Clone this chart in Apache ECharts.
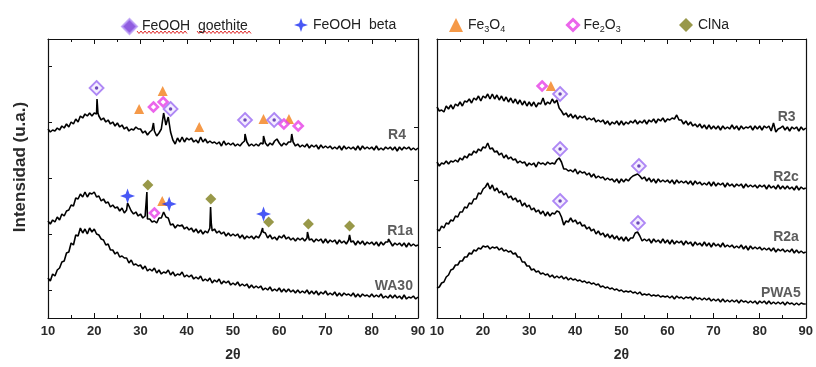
<!DOCTYPE html>
<html><head><meta charset="utf-8">
<script src="https://cdn.jsdelivr.net/npm/echarts@6/dist/echarts.min.js"></script>
<style>html,body{margin:0;padding:0;background:#fff}#c{width:816px;height:367px}</style>
</head><body><div id="c"></div>
<script>
// 2-theta grid (degrees), 0.5 deg step
const twoTheta = [10,10.5,11,11.5,12,12.5,13,13.5,14,14.5,15,15.5,16,16.5,17,17.5,18,18.5,19,19.5,20,20.5,21,21.5,22,22.5,23,23.5,24,24.5,25,25.5,26,26.5,27,27.5,28,28.5,29,29.5,30,30.5,31,31.5,32,32.5,33,33.5,34,34.5,35,35.5,36,36.5,37,37.5,38,38.5,39,39.5,40,40.5,41,41.5,42,42.5,43,43.5,44,44.5,45,45.5,46,46.5,47,47.5,48,48.5,49,49.5,50,50.5,51,51.5,52,52.5,53,53.5,54,54.5,55,55.5,56,56.5,57,57.5,58,58.5,59,59.5,60,60.5,61,61.5,62,62.5,63,63.5,64,64.5,65,65.5,66,66.5,67,67.5,68,68.5,69,69.5,70,70.5,71,71.5,72,72.5,73,73.5,74,74.5,75,75.5,76,76.5,77,77.5,78,78.5,79,79.5,80,80.5,81,81.5,82,82.5,83,83.5,84,84.5,85,85.5,86,86.5,87,87.5,88,88.5,89,89.5,90];

// Left panel (stacked, arbitrary units)
const wa30 = [40,37,44,42,48,50,56,57,65,66, 75,73,83,82,90,85,89,84,90,86, 89,84,83,79,78,73,74,68,68,64, 66,61,62,60,60,55,58,53,54,52, 53,49,52,47,49,47,50,45,48,44, 46,45,48,43,46,42,44,43,46,41, 43,41,43,39,41,39,42,37,39,37, 40,35,38,36,39,34,37,35,37,33, 35,33,36,32,34,32,34,30,33,30, 32,30,32,28,30,28,31,27,29,27, 30,26,29,26,29,26,28,25,28,25, 27,25,28,24,27,24,27,23,26,24, 27,23,25,23,26,22,25,22,25,23, 24,22,25,21,24,21,24,22,23,21, 24,21,23,21,24,20,22,20,23,20, 23,20,22,19,23,19,21,20,22,19, 21];
const r1a = [97,94,98,96,101,98,104,102,107,108, 113,112,120,119,124,121,126,121,125,124, 126,121,122,117,119,115,116,111,113,110, 111,107,110,105,108,113,107,104,106,102, 104,100,102,99,99,96,97,95,100,100, 106,101,100,93,94,90,93,92,93,89, 91,88,90,86,89,85,88,84,87,85, 90,87,89,85,87,84,86,82,85,82, 84,82,84,80,83,79,82,80,82,79, 82,80,84,86,85,80,83,79,81,78, 82,80,83,79,81,78,80,77,80,78, 80,77,80,78,79,76,79,77,79,75, 79,75,78,76,78,74,78,75,77,74, 78,76,77,73,77,74,77,73,76,74, 76,73,76,72,76,73,76,76,76,72, 75,73,75,72,75,71,75,72,74,72, 73];
const r1aPeaks = [[27.2,115],[31.3,104],[31.38,126],[31.44,124],[45.15,111],[45.3,95],[56.4,90],[66.1,86],[75.2,83],[83.6,79]];
const r4 = [189,186,188,187,190,188,192,190,194,191, 196,194,199,196,202,200,204,202,205,202, 205,204,202,198,200,196,198,194,196,192, 195,191,193,189,191,187,189,188,191,189, 189,185,187,183,186,188,187,182,185,189, 205,193,201,186,178,174,180,176,181,176, 180,178,180,176,178,175,181,176,179,175, 177,175,176,174,176,172,177,173,175,173, 175,172,174,172,175,177,176,172,174,172, 174,172,175,174,175,172,175,173,177,179, 175,172,175,173,176,176,176,172,174,171, 173,171,174,170,173,171,173,169,173,170, 172,170,172,169,171,169,172,168,172,169, 171,169,171,168,172,168,172,169,171,169, 171,168,172,168,170,168,171,169,171,168, 171,167,171,168,171,169,171,168,170,168, 170];
const r4Peaks = [[20.6,219],[20.8,205],[32.8,195],[52.6,184],[56.6,182],[62.7,184]];

// Right panel
const r3 = [211,207,208,206,212,209,213,209,214,212, 216,212,217,216,219,215,220,218,222,217, 222,220,224,219,224,219,223,218,222,217, 221,216,220,215,219,214,218,213,217,212, 216,212,216,211,215,214,220,213,216,214, 219,215,218,210,207,203,205,201,204,200, 203,199,202,200,202,198,200,198,200,196, 198,196,198,194,197,193,196,194,197,193, 197,193,196,194,197,195,198,194,197,195, 198,194,198,196,199,195,199,197,200,196, 199,198,200,199,203,198,198,194,197,193, 196,192,194,191,194,190,193,189,193,189, 192,189,192,188,192,189,191,189,193,189, 192,188,192,189,191,190,192,188,192,189, 192,188,192,190,192,187,195,186,189,190, 192,188,191,187,191,189,191,187,191,188, 190];
const r2c = [156,152,155,154,157,154,157,156,158,156, 160,158,162,160,164,163,167,165,169,167, 171,170,175,169,170,166,167,163,165,160, 163,159,161,158,159,155,157,155,156,152, 155,153,155,151,156,154,155,153,156,154, 155,154,158,160,156,149,149,147,148,146, 149,144,147,145,146,143,145,141,144,140, 142,140,141,138,140,138,139,136,139,135, 139,136,139,137,140,142,143,144,142,139, 141,137,140,136,139,135,139,136,138,136, 138,135,138,134,138,135,137,135,137,134, 137,133,137,134,136,133,135,133,136,132, 136,132,135,133,135,131,135,132,134,131, 134,132,134,130,134,131,133,131,133,130, 133,131,133,129,133,130,132,129,133,129, 132,129,132,129,131,128,132,128,131,129, 130];
const r2a = [89,87,92,90,95,94,98,97,102,101, 106,106,111,110,115,114,119,119,125,124, 129,131,135,129,133,127,130,125,127,123, 125,120,122,118,120,116,118,112,115,111, 113,108,110,106,108,104,107,102,106,102, 105,104,107,106,101,93,97,96,100,96, 98,94,96,92,93,89,91,87,89,84, 87,83,85,81,84,80,83,79,82,78, 81,77,81,77,80,80,85,86,82,77, 79,77,79,75,79,76,78,75,79,75, 78,74,78,74,77,75,77,73,77,74, 76,72,76,73,75,72,76,72,75,71, 75,72,74,71,75,71,73,71,73,70, 72,70,73,69,72,68,72,69,71,69, 71,68,70,68,70,67,70,66,69,67, 69,66,68,66,69,65,68,65,67,65, 66];
const pwa5 = [30,31,35,36,41,43,48,49,53,53, 57,57,61,61,65,64,68,67,70,69, 72,71,72,69,71,70,71,68,70,67, 68,66,67,64,65,61,61,56,56,52, 52,48,49,46,47,44,45,43,44,41, 43,40,42,40,42,39,41,38,40,38, 39,37,38,36,37,35,36,34,35,33, 34,31,32,30,31,29,30,28,29,27, 28,26,27,26,27,25,26,24,26,23, 24,23,24,22,23,22,23,21,22,21, 22,20,22,19,22,20,21,19,21,20, 21,18,21,19,20,18,20,18,20,17, 19,17,19,16,19,16,18,16,18,16, 18,15,18,16,17,15,17,15,17,14, 17,15,17,14,17,14,16,14,16,14, 16,13,16,14,15,13,15,13,15,14, 14];

// Phase markers [2theta, intensity]
const goethiteLeft = [[20.5,230],[36.5,209],[52.6,198],[58.9,198]];
const goethiteRight = [[36.7,224],[36.7,169],[53.8,152],[36.7,117],[53.6,95]];
const betaLeft = [[27.2,122],[36.2,114],[56.6,104]];
const fe3o4Left = [[29.7,209],[34.8,227],[42.7,191],[56.6,199],[62.1,199],[34.7,117]];
const fe3o4Right = [[34.7,232]];
const fe2o3Left = [[32.8,211],[34.9,216],[61.0,194],[64.1,192],[33.0,105]];
const fe2o3Right = [[32.8,232]];
const clnaLeft = [[31.6,133],[45.2,119],[57.7,96],[66.3,94],[75.2,92]];

// Sample names and anchor points (data coords)
const leftNames = ['R4','R1a','WA30'];
const leftAnchors = [[87.4,183],[88.9,87],[88.9,32]];
const rightNames = ['R3','R2c','R2a','PWA5'];
const rightAnchors = [[87.8,201],[88.5,141],[88.5,81],[88.9,25]];

const xTicks = ['10','20','30','40','50','60','70','80','90'];
const phaseNames = ['FeOOH  goethite','FeOOH  beta','Fe3O4','Fe2O3','ClNa'];

function build(base, peaks) {
  const pts = base.map((v, i) => [twoTheta[i], v]).concat(peaks || []);
  pts.sort((a, b) => a[0] - b[0]);
  return pts;
}

const FONT = 'Liberation Sans, Arial, sans-serif';
const starPath = 'path://M0,-10 L2.6,-2.6 L10,0 L2.6,2.6 L0,10 L-2.6,2.6 L-10,0 L-2.6,-2.6 Z';
const C = {
  goe: '#9b6cf2', goeFill: '#f1e9ff', goeDot: '#4a1fa8',
  beta: '#1a2ef2', fe3o4: '#f2801a', fe2o3: '#e63fe6', clna: '#7e7e1c'
};

const chart = echarts.init(document.getElementById('c'), null, {renderer: 'canvas'});

function xAx(grid, top) {
  return {
    type: 'value', gridIndex: grid, min: 10, max: 90, interval: 10,
    position: top ? 'top' : 'bottom',
    axisLine: {onZero: false, lineStyle: {color: '#111', width: 1.2}},
    axisTick: {show: true, inside: true, length: 5, lineStyle: {color: '#111'}},
    minorTick: {show: true, splitNumber: 2, length: 3, lineStyle: {color: '#111'}},
    axisLabel: top ? {show: false} : {
      show: true, margin: 7, fontFamily: FONT, fontWeight: 'bold', fontSize: 13, color: '#2a2a2a',
      formatter: v => xTicks[(v - 10) / 10]
    },
    splitLine: {show: false},
    name: top ? '' : '2θ', nameLocation: 'middle', nameGap: 30,
    nameTextStyle: {fontFamily: FONT, fontWeight: 'bold', fontSize: 14, color: '#2a2a2a'}
  };
}
function yAx(grid, right, ticks) {
  return {
    type: 'value', gridIndex: grid, min: 0, max: 279, position: right ? 'right' : 'left',
    axisLine: {show: true, onZero: false, lineStyle: {color: '#111', width: 1.2}},
    axisTick: {show: ticks.length > 0, inside: true, length: 4, customValues: ticks, lineStyle: {color: '#111'}},
    axisLabel: {show: false},
    splitLine: {show: false}
  };
}
function lineS(xi, yi, data) {
  return {type: 'line', xAxisIndex: xi, yAxisIndex: yi, data: data, symbol: 'none',
    lineStyle: {color: '#000', width: 1.6}, silent: true, z: 2};
}
function scat(name, xi, yi, data, extra) {
  return Object.assign({type: 'scatter', name: name, xAxisIndex: xi, yAxisIndex: yi, data: data, z: 5, silent: true}, extra);
}
const goeStyle = {symbol: 'diamond', symbolSize: 14, itemStyle: {color: C.goeFill, borderColor: C.goe, borderWidth: 1.8}};
const goeDot = {symbol: 'circle', symbolSize: 3.5, itemStyle: {color: C.goeDot}, z: 6};
const betaStyle = {symbol: starPath, symbolSize: 15, itemStyle: {color: C.beta}};
const fe3Style = {symbol: 'triangle', symbolSize: 10, itemStyle: {color: C.fe3o4}};
const fe2Style = {symbol: 'diamond', symbolSize: 9, itemStyle: {color: '#fff', borderColor: C.fe2o3, borderWidth: 2.6}};
const clStyle = {symbol: 'diamond', symbolSize: 11, itemStyle: {color: C.clna}};

function labelS(xi, yi, names, anchors) {
  return {type: 'scatter', xAxisIndex: xi, yAxisIndex: yi, symbolSize: 0, silent: true, z: 4,
    data: names.map((n, i) => ({value: anchors[i], name: n})),
    label: {show: true, position: 'left', distance: 0, formatter: p => p.name,
      fontFamily: FONT, fontWeight: 'bold', fontSize: 14, color: '#333'}};
}

const legendTxt = {fontFamily: FONT, fontSize: 14, color: '#222',
  rich: {s: {fontFamily: FONT, fontSize: 9, color: '#222', verticalAlign: 'bottom', lineHeight: 18}}};
function leg(name, left, icon, style, size) {
  return {show: true, top: 13, left: left, itemWidth: size || 14, itemHeight: size || 14, itemGap: 0,
    textStyle: legendTxt, selectedMode: false,
    formatter: n => ({'Fe3O4': 'Fe{s|3}O{s|4}', 'Fe2O3': 'Fe{s|2}O{s|3}'}[n] || n),
    data: [{name: name, icon: icon, itemStyle: style}]};
}

// decorative spell-check squiggle under legend text
function squiggle(x0, x1, y) {
  const pts = [];
  for (let x = x0, k = 0; x <= x1; x += 2, k++) pts.push([x, y + (k % 2 ? 1.5 : -1)]);
  return {type: 'polyline', shape: {points: pts}, style: {stroke: '#e02a2a', lineWidth: 1, fill: null}, silent: true};
}

const option = {
  animation: false,
  backgroundColor: '#fff',
  textStyle: {fontFamily: FONT},
  grid: [
    {left: 48, right: 398, top: 39, bottom: 49},
    {left: 437, right: 9, top: 39, bottom: 49}
  ],
  xAxis: [xAx(0, false), xAx(1, false), xAx(0, true), xAx(1, true)],
  yAxis: [yAx(0, false, [28, 84, 140, 196, 252]), yAx(0, true, [138, 191]), yAx(1, false, [71]), yAx(1, true, [])],
  legend: [
    leg(phaseNames[0], 116, 'diamond', {color: '#7434d8', borderColor: '#b898f5', borderWidth: 2}, 15),
    leg(phaseNames[1], 289, starPath, {color: C.beta}),
    leg(phaseNames[2], 444, 'triangle', {color: C.fe3o4}),
    leg(phaseNames[3], 561, 'diamond', {color: '#fff', borderColor: C.fe2o3, borderWidth: 3}, 11),
    leg(phaseNames[4], 674, 'diamond', {color: C.clna})
  ],
  graphic: [
    {type: 'text', x: 20, y: 167, rotation: Math.PI / 2, silent: true,
      style: {text: 'Intensidad (u.a.)', font: 'bold 17px ' + FONT, fill: '#2a2a2a', align: 'center', verticalAlign: 'middle'}},
    squiggle(137, 188, 32), squiggle(197, 252, 32)
  ],
  series: [
    lineS(0, 0, build(wa30)),
    lineS(0, 0, build(r1a, r1aPeaks)),
    lineS(0, 0, build(r4, r4Peaks)),
    lineS(1, 2, build(r3)),
    lineS(1, 2, build(r2c)),
    lineS(1, 2, build(r2a)),
    lineS(1, 2, build(pwa5)),
    labelS(0, 0, leftNames, leftAnchors),
    labelS(1, 2, rightNames, rightAnchors),
    scat(phaseNames[2], 0, 0, fe3o4Left, fe3Style),
    scat(phaseNames[2], 1, 2, fe3o4Right, fe3Style),
    scat(phaseNames[3], 0, 0, fe2o3Left, fe2Style),
    scat(phaseNames[3], 1, 2, fe2o3Right, fe2Style),
    scat(phaseNames[0], 0, 0, goethiteLeft, goeStyle),
    scat(phaseNames[0], 1, 2, goethiteRight, goeStyle),
    scat('goethite-center', 0, 0, goethiteLeft, goeDot),
    scat('goethite-center2', 1, 2, goethiteRight, goeDot),
    scat(phaseNames[1], 0, 0, betaLeft, betaStyle),
    scat(phaseNames[4], 0, 0, clnaLeft, clStyle)
  ]
};
chart.setOption(option);
</script></body></html>
